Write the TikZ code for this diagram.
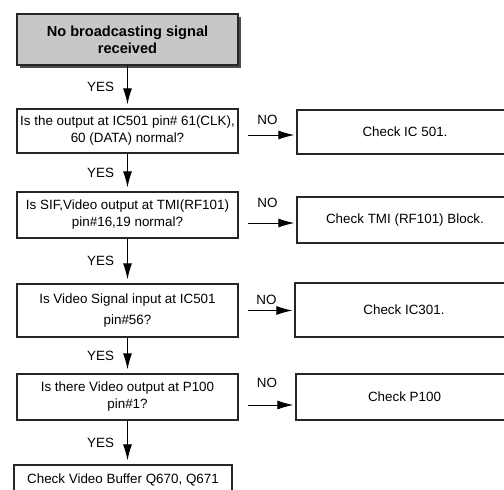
\documentclass[tikz,border=0pt]{standalone}
\usepackage{fontspec}
\setmainfont{Liberation Sans}
\usetikzlibrary{arrows.meta,calc}

\begin{document}
\begin{tikzpicture}[x=1pt,y=-1pt,
  box/.style={draw=black!85,line width=1.3pt,align=center,inner sep=0pt,
    font=\fontsize{13.4}{17}\selectfont},
  arr/.style={-{Latex[length=16pt,width=9pt]},line width=1pt},
  lbl/.style={font=\fontsize{13.4}{15}\selectfont,inner sep=0pt}]
\useasboundingbox (0,0) rectangle (504,490);
\clip (0,0) rectangle (504,490);

% start box with its shadow
\fill[black!70] (20,17) rectangle (241,68);
\node[box,fill=black!22,minimum width=221pt,minimum height=51pt,
  font=\bfseries\fontsize{14.6}{17}\selectfont] (start) at (127.5,39.5)
  {No broadcasting signal\\received};

% questions
\node[box,minimum width=221pt,minimum height=44pt] (q1) at (127.5,131)
  {Is the output at IC501 pin\# 61(CLK),\\60 (DATA) normal?};
\node[box,minimum width=221pt,minimum height=46pt] (q2) at (127.5,215)
  {Is SIF,Video output at TMI(RF101)\\pin\#16,19 normal?};
\node[box,minimum width=221pt,minimum height=53pt] (q3) at (127.5,310.5)
  {Is Video Signal input at IC501\\[4pt]pin\#56?};
\node[box,minimum width=221pt,minimum height=46pt] (q4) at (127.5,397)
  {Is there Video output at P100\\pin\#1?};
\node[box,minimum width=218pt,minimum height=30pt] (q5) at (123,480)
  {Check Video Buffer Q670, Q671};

% checks
\node[box,minimum width=216pt,minimum height=44pt] (c1) at (405,132) {Check IC 501.};
\node[box,minimum width=216pt,minimum height=46pt] (c2) at (405,220) {Check TMI (RF101) Block.};
\node[box,minimum width=218pt,minimum height=54pt] (c3) at (404,310) {Check IC301.};
\node[box,minimum width=217pt,minimum height=46pt] (c4) at (404.5,397) {Check P100};

\foreach \a/\b in {start/q1,q1/q2,q2/q3,q3/q4,q4/q5}
  \draw[arr,shorten >=4pt] (\a.south) -- (\a.south |- \b.north)
    node[lbl,midway,left=13pt] {YES};

\foreach \a/\b/\dy/\ny in {q1/c1/4/10,q2/c2/8/15,q3/c3/0/5,q4/c4/8/17}
  \draw[arr,shorten <=9pt,shorten >=2pt] ([yshift=-\dy pt]\a.east)
    -- ([yshift=-\dy pt]\a.east -| \b.west)
    node[lbl,midway,above=\ny pt] {NO};

\end{tikzpicture}
\end{document}
